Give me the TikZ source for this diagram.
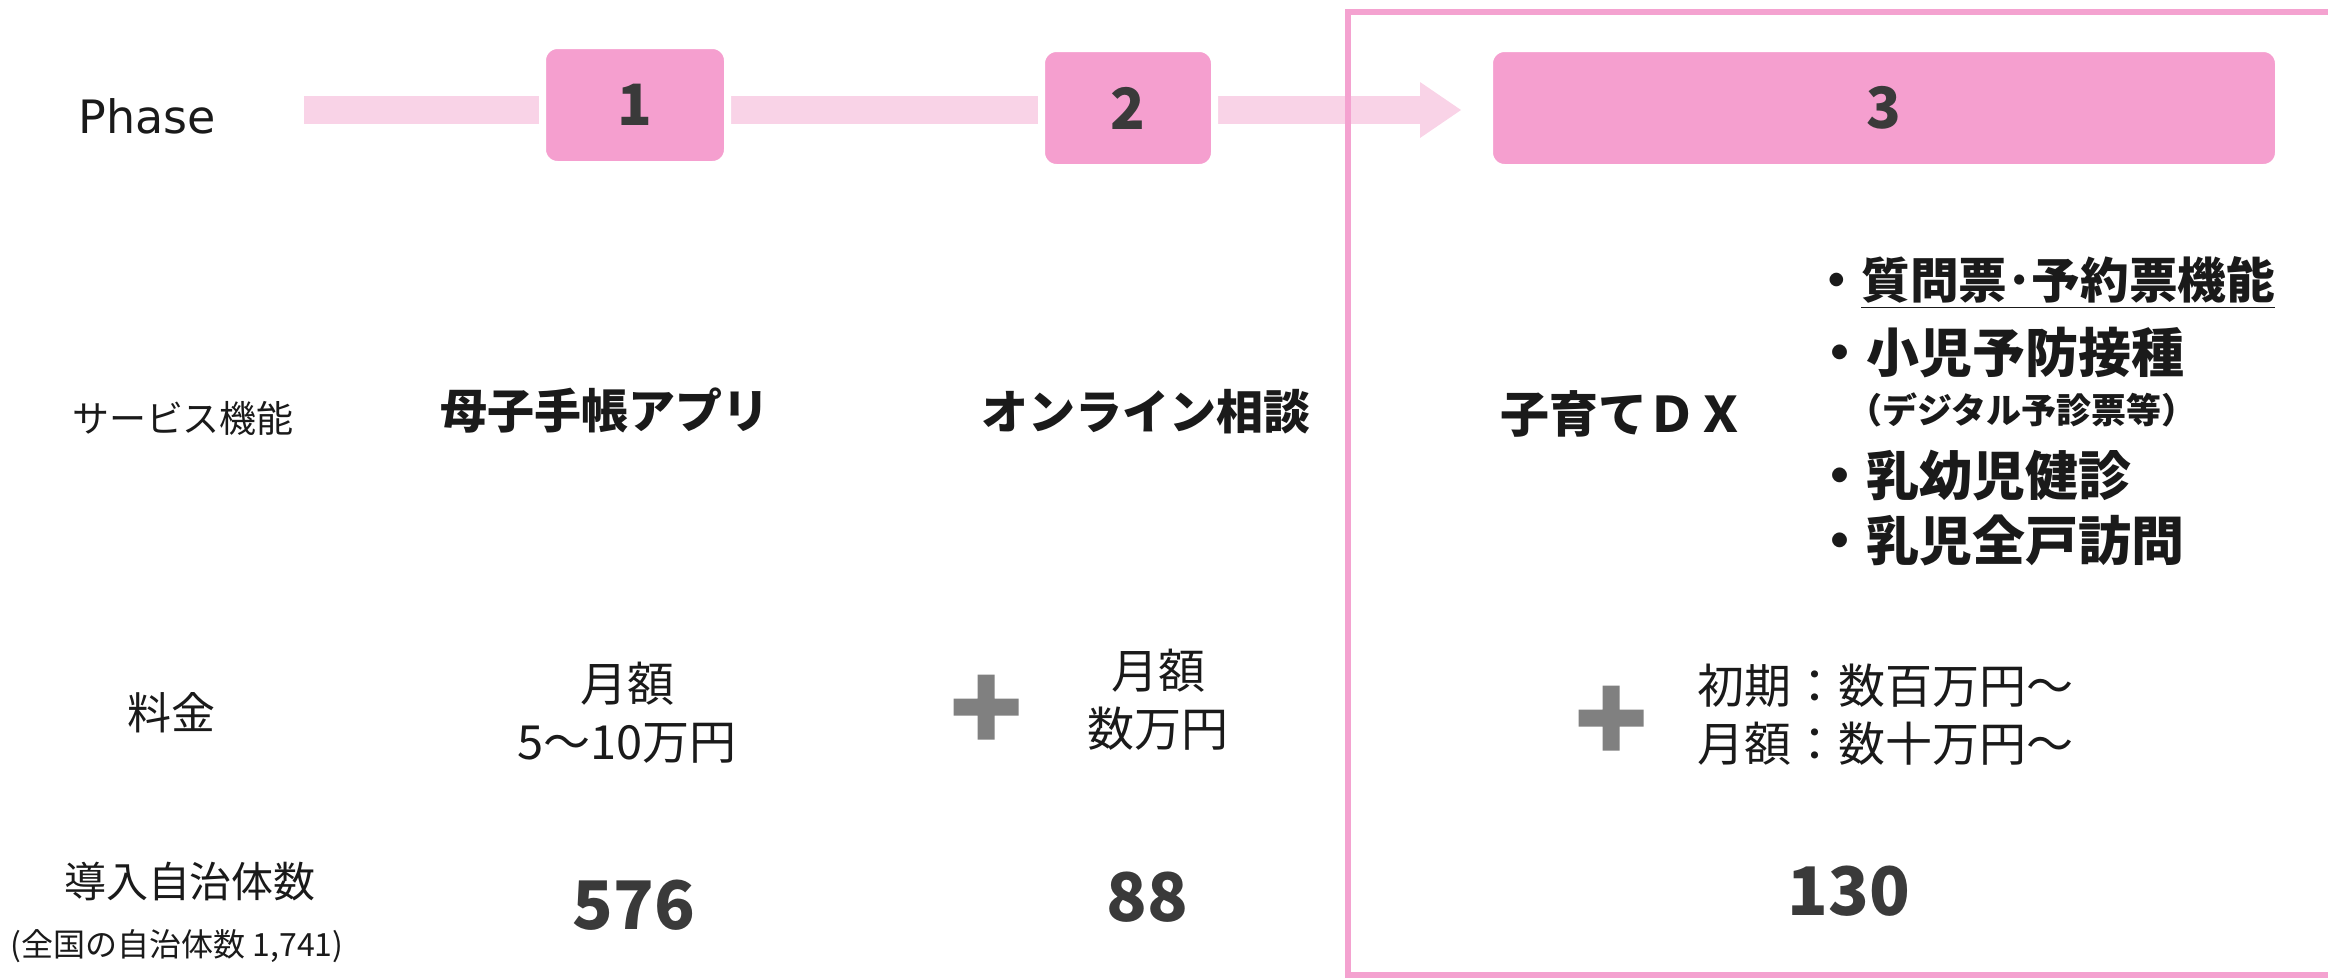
\documentclass[tikz,border=0pt]{standalone}
\usepackage{fontspec}
\setmainfont{Noto Sans CJK JP}
\newfontfamily\phasefont{DejaVu Sans}
\usepackage{xcolor}
\usepackage{tikz}
\usetikzlibrary{arrows.meta,positioning}

\definecolor{boxpink}{HTML}{F59FCF}
\definecolor{bandpink}{HTML}{F9D3E7}
\definecolor{framepink}{HTML}{F4A2D0}
\definecolor{plusgray}{HTML}{808080}
\definecolor{numgray}{HTML}{3A3A3A}
\definecolor{textdark}{HTML}{1A1A1A}

\begin{document}
\begin{tikzpicture}[
        x = 0.3pt,
        y = -0.3pt,
        txt/.style = {
                inner sep=0pt,
                text=textdark,
            },
        phasebox/.style = {
                rectangle,
                rounded corners=4.5pt,
                fill=boxpink,
                draw=white,
                line width=2.1pt,
                minimum height=35.7pt,
                text=numgray,
                font=\fontsize{17.1}{20}\selectfont\bfseries,
            },
        band/.style = {
                line width=8.4pt,
                draw=bandpink,
                -{Triangle[length=12.3pt,width=16.8pt,line width=0pt]},
            },
        service/.style = {txt, font=\fontsize{14.1}{17}\selectfont\bfseries},
        fee/.style = {txt, align=center, font=\fontsize{14.1}{17.4}\selectfont},
        total/.style = {txt, text=numgray, font=\fontsize{20.1}{24}\selectfont\bfseries},
        listitem/.style = {txt, anchor=west, font=\fontsize{15.9}{19}\selectfont\bfseries},
        plus/.style = {fill=plusgray},
    ]
    \useasboundingbox (0,0) rectangle (2328,978);
    % phase row
    \node[txt, font=\fontsize{13.8}{16}\selectfont\phasefont] (phase) at (147,116) {Phase};
    \coordinate (bandstart) at (304,110);
    \coordinate (bandtip) at (1461,110);
    \draw[band] (bandstart) -- (bandtip);
    \foreach \x/\y/\w [count=\j] in {635/105/185, 1128/108/173, 1884/108/789}
    \node[phasebox, minimum width=\w*0.3pt] (P-\j) at (\x,\y) {\j};
    \draw[framepink, line width=1.8pt] (1348,12) rectangle (2345,975);
    % row labels
    \node[txt, font=\fontsize{11.1}{13}\selectfont] (L-1) at (183,418) {サービス機能};
    \node[txt, font=\fontsize{13.2}{15}\selectfont] (L-2) at (171,713) {料金};
    \node[txt, font=\fontsize{12.6}{15}\selectfont] (L-3) at (190,882) {導入自治体数};
    \node[txt, font=\fontsize{9.6}{11}\selectfont, below=8pt of L-3, xshift=-3.9pt] (L-4) {(全国の自治体数 1,741)};
    % services
    \node[service] (S-1) at (605,411) {母子手帳アプリ};
    \node[service] (S-2) at (1146,412) {オンライン相談};
    \node[service, font=\fontsize{14.7}{17}\selectfont\bfseries] (S-3) at (1623,414) {子育てＤＸ};
    \node[listitem, font=\fontsize{14.6}{17}\selectfont\bfseries] (B-1) at (1812,283) {・\underline{質問票･予約票機能}};
    \node[listitem] (B-2) at (1813,353) {・小児予防接種};
    \node[listitem, font=\fontsize{10.5}{12}\selectfont\bfseries, below right=4pt and 10pt of B-2.south west] (B-sub) {（デジタル予診票等）};
    \node[listitem] (B-3) at (1813,476) {・乳幼児健診};
    \node[listitem] (B-4) at (1813,540) {・乳児全戸訪問};
    % fees
    \node[fee] (F-1) at (627,713) {月額\\5～10万円};
    \node[fee] (F-2) at (1158,700) {月額\\数万円};
    \node[fee, align=left, anchor=west] (F-3) at (1697,715) {初期：数百万円～\\月額：数十万円～};
    \coordinate (plusA) at (986,707);
    \coordinate (plusB) at (1611,718);
    \foreach \p in {plusA, plusB}
    \fill[plus] (\p) ++(-32.5,-8.5) rectangle ++(65,17) (\p) ++(-8.5,-32.5) rectangle ++(17,65);
    % totals
    \foreach \v/\x/\y [count=\j] in {576/634/905, 88/1147/897, 130/1849/891}
    \node[total] (N-\j) at (\x,\y) {\v};
\end{tikzpicture}
\end{document}
